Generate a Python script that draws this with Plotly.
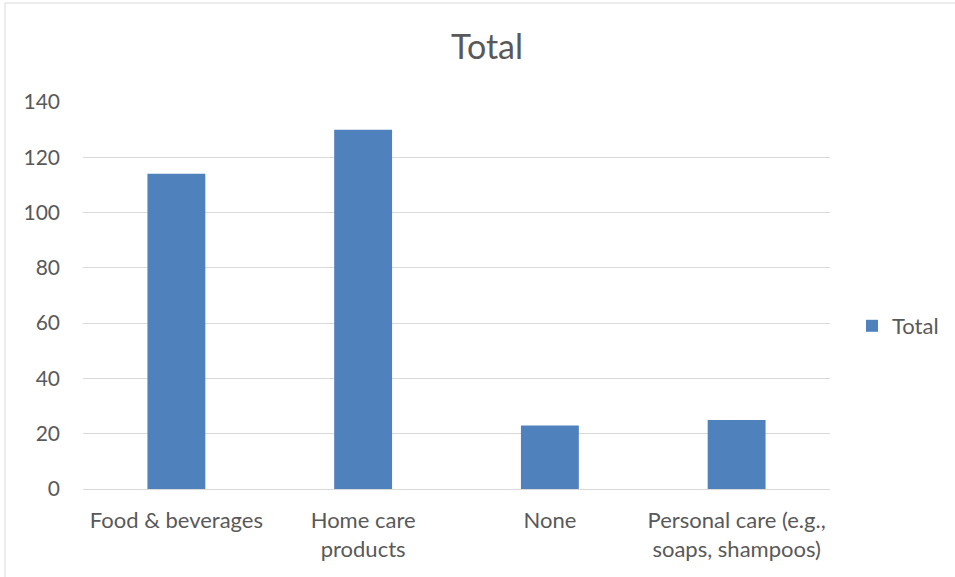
import plotly.graph_objects as go

categories = ["Food & beverages", "Home care<br>products", "None", "Personal care (e.g.,<br>soaps, shampoos)"]
totals = [114, 130, 23, 25]
y_ticks = [0, 20, 40, 60, 80, 100, 120, 140]

text_color = "#595959"
font_family = "Lato, 'Open Sans', sans-serif"

fig = go.Figure(
    go.Bar(
        x=categories,
        y=totals,
        name="Total",
        marker=dict(color="#4F81BD", line=dict(width=0)),
        showlegend=True,
    )
)

fig.update_layout(
    width=955,
    height=577,
    paper_bgcolor="white",
    plot_bgcolor="white",
    margin=dict(l=83, r=125, t=102, b=88, autoexpand=False),
    bargap=0.69,
    title=dict(
        text="Total",
        x=0.51,
        xanchor="center",
        y=0.918,
        yanchor="middle",
        font=dict(family=font_family, size=34, color=text_color),
    ),
    font=dict(family=font_family, size=21, color=text_color),
    legend=dict(
        xref="container",
        yref="container",
        x=852 / 955,
        y=1 - 326 / 577,
        xanchor="left",
        yanchor="middle",
        font=dict(size=22, color=text_color),
        itemwidth=30,
    ),
    xaxis=dict(
        showgrid=False,
        showline=False,
        ticks="",
        ticklabelstandoff=16,
        tickfont=dict(size=22, color=text_color),
    ),
    yaxis=dict(
        range=[0, 140],
        tickvals=y_ticks,
        showgrid=True,
        gridcolor="#D9D9D9",
        gridwidth=1,
        zeroline=True,
        zerolinecolor="#D9D9D9",
        zerolinewidth=1,
        ticks="",
        ticklabelstandoff=22,
        tickfont=dict(size=21, color=text_color),
    ),
    shapes=[
        dict(
            type="rect",
            xref="paper",
            yref="paper",
            x0=-78 / 747,
            x1=1 + 200 / 747,
            y0=-200 / 387,
            y1=1 + 99 / 387,
            line=dict(color="#D9D9D9", width=1),
            fillcolor="rgba(0,0,0,0)",
            layer="below",
        )
    ],
)

fig.write_html("out.html")
